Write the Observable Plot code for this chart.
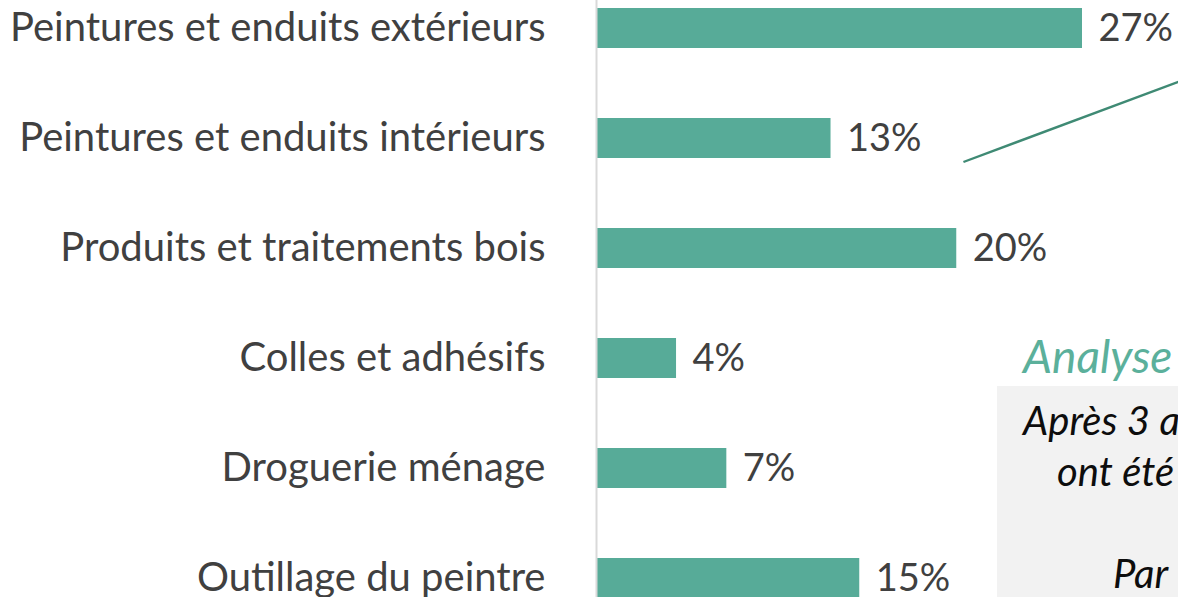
<!DOCTYPE html>
<html>
<head>
<meta charset="utf-8">
<script src="https://cdn.jsdelivr.net/npm/d3@7"></script>
<script src="https://cdn.jsdelivr.net/npm/@observablehq/plot@0.6"></script>
<style>
  html, body { margin: 0; padding: 0; background: #ffffff; overflow: hidden; }
  #chart { width: 1178px; height: 597px; position: relative; }
  svg { display: block; }
</style>
</head>
<body>
<div id="chart"></div>
<script>
const categories = [
  "Peintures et enduits extérieurs",
  "Peintures et enduits intérieurs",
  "Produits et traitements bois",
  "Colles et adhésifs",
  "Droguerie ménage",
  "Outillage du peintre"
];
const values = [27.0, 13.0, 20.0, 4.4, 7.2, 14.6];
const valueLabels = ["27%", "13%", "20%", "4%", "7%", "15%"];

const annotationTitle = "Analyse";
const annotationLines = ["Après 3 a", "ont été", "", "Par"];

const data = categories.map((c, i) => ({ category: c, value: values[i], label: valueLabels[i] }));

const FONT = "Lato, 'Open Sans', sans-serif";
const BAR = "#57ab98";
const TEXT = "#404040";

const plot = Plot.plot({
  width: 1178,
  height: 597,
  marginLeft: 597,
  marginRight: 96,
  marginTop: 0,
  marginBottom: 0,
  style: { fontFamily: FONT, background: "#ffffff", overflow: "hidden" },
  x: { domain: [0, 27], axis: null },
  y: { domain: categories, range: [7, 598], paddingInner: 0.637, paddingOuter: 0, label: null },
  marks: [
    Plot.barX(data, { x: "value", y: "category", fill: BAR }),
    Plot.ruleX([0], { stroke: "#d9d9d9", strokeWidth: 2, dx: -1 }),
    Plot.axisY({ tickSize: 0, tickPadding: 52, fontSize: 40, fill: TEXT, label: null }),
    Plot.text(data, { x: "value", y: "category", text: "label", dx: 16, textAnchor: "start", fontSize: 38, fill: TEXT })
  ]
});

document.getElementById("chart").appendChild(plot);

// Annotation overlay (callout line, "Analyse" heading and grey text box)
const svg = d3.select(plot);
const xs = plot.scale("x");
const ys = plot.scale("y");
const yMid = ys.apply(categories[1]) + ys.bandwidth / 2;

const g = svg.append("g").attr("class", "annotation").attr("text-anchor", "start");
g.append("line")
  .attr("x1", xs.apply(20.4)).attr("y1", yMid + 24)
  .attr("x2", xs.apply(33)).attr("y2", yMid + 24 - 0.373 * (xs.apply(33) - xs.apply(20.4)))
  .attr("stroke", "#3f8a74").attr("stroke-width", 2.4);

g.append("rect")
  .attr("x", 997).attr("y", 386).attr("width", 300).attr("height", 300)
  .attr("fill", "#f2f2f2");

g.append("text")
  .attr("x", 1023).attr("y", 373)
  .attr("text-anchor", "start")
  .attr("font-family", FONT).attr("font-style", "italic").attr("font-size", 46)
  .attr("fill", "#5bb09b")
  .text(annotationTitle);

const lineX = [1023, 1057, 1057, 1113];
annotationLines.forEach((t, i) => {
  g.append("text")
    .attr("x", lineX[i]).attr("y", 435 + i * 51)
    .attr("text-anchor", "start")
    .attr("font-family", FONT).attr("font-style", "italic").attr("font-size", 40)
    .attr("fill", "#0d0d0d")
    .text(t);
});
</script>
</body>
</html>
